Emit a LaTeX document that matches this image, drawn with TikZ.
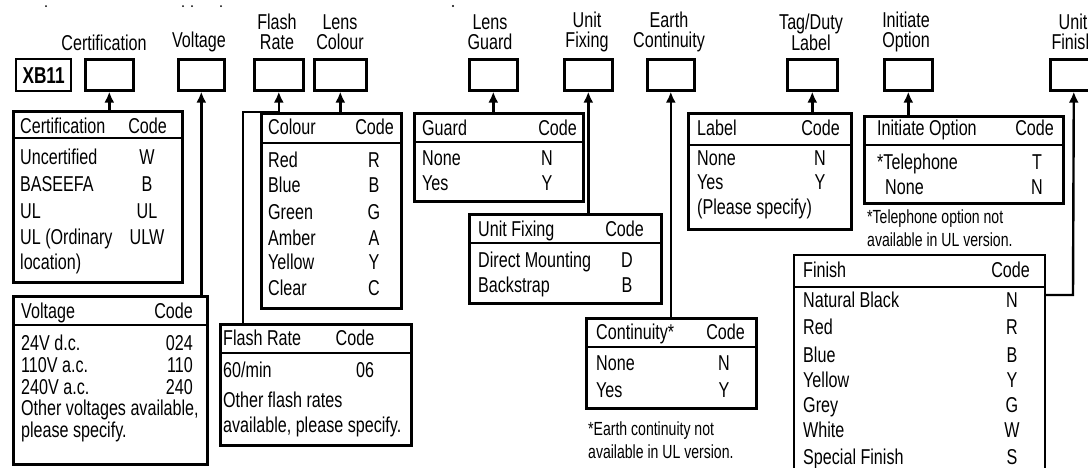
\documentclass[tikz,border=0pt]{standalone}
\usepackage{fontspec}
\setmainfont{Liberation Sans}[FakeStretch=0.75]
\newfontfamily\notefont{Liberation Sans}[FakeStretch=0.74]
\usetikzlibrary{arrows.meta}
\tikzset{
  codebox/.style={draw, line width=2.6pt, minimum height=31pt, inner sep=0pt, anchor=north west},
  tbl/.style={draw, line width=2.6pt, inner sep=0pt, anchor=north west},
  hdr/.style={line width=2pt},
  tx/.style={inner sep=0pt, text height=19pt, text depth=4pt, font=\fontsize{21.5}{21}\selectfont},
  txt/.style={tx, anchor=west},
  rtxt/.style={tx, anchor=east},
  ctxt/.style={tx},
  note/.style={inner sep=0pt, anchor=west, font=\notefont\fontsize{19}{23}\selectfont, align=left},
  lbl/.style={inner sep=0pt, align=center, font=\fontsize{21.5}{20}\selectfont},
  arr/.style={line width=2.4pt, -{Latex[length=11pt,width=10pt]}},
}
\begin{document}
\begin{tikzpicture}[x=1pt,y=-1pt]
\useasboundingbox (0,0) rectangle (1088,467);
% stray marks
\fill (46,6) circle (1pt);
\fill (183,6) circle (1pt);
\fill (192,6) circle (1pt);
\fill (221,6) circle (1pt);
\fill (453,6) circle (1.1pt);
% XB11
\node[draw, line width=2.2pt, anchor=north west, minimum width=55pt, minimum height=32pt, inner sep=0pt,
      font=\fontsize{23}{22}\selectfont\bfseries] (xb) at (15,58) {XB11};
% top code boxes
\node[codebox, minimum width=48pt] (certB) at (84,58) {};
\node[codebox, minimum width=46pt] (voltB) at (177,58) {};
\node[codebox, minimum width=49pt] (flashB) at (253,58) {};
\node[codebox, minimum width=52pt] (colB) at (313,58) {};
\node[codebox, minimum width=48pt] (guardB) at (468,58) {};
\node[codebox, minimum width=48pt] (fixB) at (563,58) {};
\node[codebox, minimum width=47pt] (earthB) at (646,58) {};
\node[codebox, minimum width=50pt] (tagB) at (786,58) {};
\node[codebox, minimum width=48pt] (initB) at (883,58) {};
\node[codebox, minimum width=47pt] (finB) at (1049,58) {};
% top labels
\node[lbl] (certL) at (104,43) {Certification};
\node[lbl] (voltL) at (199,42) {Voltage};
\node[lbl] (flashL) at (277,32) {Flash\\Rate};
\node[lbl] (colL) at (340,32) {Lens\\Colour};
\node[lbl] (guardL) at (490,32) {Lens\\Guard};
\node[lbl] (fixL) at (587,32) {Unit\\Fixing};
\node[lbl] (earthL) at (669,32) {Earth\\Continuity};
\node[lbl] (tagL) at (811,32) {Tag/Duty\\Label};
\node[lbl] (initL) at (906,32) {Initiate\\Option};
\node[lbl] (finL) at (1073,32) {Unit\\Finish};

% Certification table
\node[tbl, minimum width=169pt, minimum height=171pt] (certT) at (12,110) {};
\draw[hdr] (certT.west |- 0,138) -- (certT.east |- 0,138);
\node[txt] (ct0) at (20,126) {Certification};
\node[rtxt] (cc0) at (167,126) {Code};
\node[txt] (ct1) at (20,157) {Uncertified};
\node[ctxt] (cc1) at (147,157) {W};
\node[txt] (ct2) at (20,184) {BASEEFA};
\node[ctxt] (cc2) at (147,184) {B};
\node[txt] (ct3) at (20,211) {UL};
\node[ctxt] (cc3) at (147,211) {UL};
\node[txt] (ct4) at (20,237) {UL (Ordinary};
\node[ctxt] (cc4) at (147,237) {ULW};
\node[txt] (ct5) at (20,262) {location)};

% Voltage table
\node[tbl, minimum width=194pt, minimum height=168pt] (voltT) at (12,295) {};
\draw[hdr] (voltT.west |- 0,325) -- (voltT.east |- 0,325);
\node[txt] (vt0) at (21,311) {Voltage};
\node[rtxt] (vc0) at (193,311) {Code};
\node[txt] (vt1) at (21,343) {24V d.c.};
\node[rtxt] (vc1) at (193,343) {024};
\node[txt] (vt2) at (21,365) {110V a.c.};
\node[rtxt] (vc2) at (193,365) {110};
\node[txt] (vt3) at (21,387) {240V a.c.};
\node[rtxt] (vc3) at (193,387) {240};
\node[txt] (vt4) at (21,408) {Other voltages available,};
\node[txt] (vt5) at (21,430) {please specify.};

% Colour table
\node[tbl, minimum width=140pt, minimum height=195pt] (colT) at (260,112) {};
\draw[hdr] (colT.west |- 0,143) -- (colT.east |- 0,143);
\node[txt] (lt0) at (268,127) {Colour};
\node[rtxt] (lc0) at (394,127) {Code};
\node[txt] (lt1) at (268,160) {Red};
\node[ctxt] (lc1) at (374,160) {R};
\node[txt] (lt2) at (268,185) {Blue};
\node[ctxt] (lc2) at (374,185) {B};
\node[txt] (lt3) at (268,212) {Green};
\node[ctxt] (lc3) at (374,212) {G};
\node[txt] (lt4) at (268,238) {Amber};
\node[ctxt] (lc4) at (374,238) {A};
\node[txt] (lt5) at (268,262) {Yellow};
\node[ctxt] (lc5) at (374,262) {Y};
\node[txt] (lt6) at (268,288) {Clear};
\node[ctxt] (lc6) at (374,288) {C};

% Flash Rate table
\node[tbl, minimum width=191pt, minimum height=121pt] (flashT) at (219,323) {};
\draw[hdr] (flashT.west |- 0,353) -- (flashT.east |- 0,353);
\node[txt] (ft0) at (223,338) {Flash Rate};
\node[ctxt] (fc0) at (355,338) {Code};
\node[txt] (ft1) at (223,370) {60/min};
\node[ctxt] (fc1) at (365,370) {06};
\node[txt] (ft2) at (223,400) {Other flash rates};
\node[txt] (ft3) at (223,425) {available, please specify.};

% Guard table
\node[tbl, minimum width=169pt, minimum height=88pt] (guardT) at (413,112) {};
\draw[hdr] (guardT.west |- 0,142) -- (guardT.east |- 0,142);
\node[txt] (gt0) at (422,128) {Guard};
\node[rtxt] (gc0) at (577,128) {Code};
\node[txt] (gt1) at (422,158) {None};
\node[ctxt] (gc1) at (547,158) {N};
\node[txt] (gt2) at (422,183) {Yes};
\node[ctxt] (gc2) at (547,183) {Y};

% Unit Fixing table
\node[tbl, minimum width=192pt, minimum height=89pt] (fixT) at (468,213) {};
\draw[hdr] (fixT.west |- 0,243) -- (fixT.east |- 0,243);
\node[txt] (xt0) at (478,229) {Unit Fixing};
\node[rtxt] (xc0) at (644,229) {Code};
\node[txt] (xt1) at (478,260) {Direct Mounting};
\node[ctxt] (xc1) at (627,260) {D};
\node[txt] (xt2) at (478,285) {Backstrap};
\node[ctxt] (xc2) at (627,285) {B};

% Continuity table
\node[tbl, minimum width=170pt, minimum height=90pt] (contT) at (585,317) {};
\draw[hdr] (contT.west |- 0,347) -- (contT.east |- 0,347);
\node[txt] (nt0) at (596,332) {Continuity*};
\node[rtxt] (nc0) at (745,332) {Code};
\node[txt] (nt1) at (596,363) {None};
\node[ctxt] (nc1) at (724,363) {N};
\node[txt] (nt2) at (596,390) {Yes};
\node[ctxt] (nc2) at (724,390) {Y};
\node[note] (nnote) at (588,440) {*Earth continuity not\\available in UL version.};

% Label table
\node[tbl, minimum width=163pt, minimum height=116pt] (labT) at (687,112) {};
\draw[hdr] (labT.west |- 0,145) -- (labT.east |- 0,145);
\node[txt] (bt0) at (697,128) {Label};
\node[rtxt] (bc0) at (840,128) {Code};
\node[txt] (bt1) at (697,158) {None};
\node[ctxt] (bc1) at (820,158) {N};
\node[txt] (bt2) at (697,182) {Yes};
\node[ctxt] (bc2) at (820,182) {Y};
\node[txt] (bt3) at (697,207) {(Please specify)};

% Initiate Option table
\node[tbl, minimum width=199pt, minimum height=87pt] (initT) at (863,115) {};
\draw[hdr] (initT.west |- 0,145) -- (initT.east |- 0,145);
\node[txt] (it0) at (877,128) {Initiate Option};
\node[rtxt] (ic0) at (1054,128) {Code};
\node[txt] (it1) at (877,162) {*Telephone};
\node[ctxt] (ic1) at (1037,162) {T};
\node[txt] (it2) at (885,187) {None};
\node[ctxt] (ic2) at (1037,187) {N};
\node[note] (inote) at (867,228) {*Telephone option not\\available in UL version.};

% Finish table
\node[tbl, line width=2pt, minimum width=251pt, minimum height=240pt] (finT) at (793,254) {};
\draw[hdr, line width=2.6pt] (finT.west |- 0,287) -- (finT.east |- 0,287);
\node[txt] (st0) at (803,270) {Finish};
\node[rtxt] (sc0) at (1030,270) {Code};
\node[txt] (st1) at (803,300) {Natural Black};
\node[ctxt] (sc1) at (1012,300) {N};
\node[txt] (st2) at (803,327) {Red};
\node[ctxt] (sc2) at (1012,327) {R};
\node[txt] (st3) at (803,355) {Blue};
\node[ctxt] (sc3) at (1012,355) {B};
\node[txt] (st4) at (803,380) {Yellow};
\node[ctxt] (sc4) at (1012,380) {Y};
\node[txt] (st5) at (803,405) {Grey};
\node[ctxt] (sc5) at (1012,405) {G};
\node[txt] (st6) at (803,430) {White};
\node[ctxt] (sc6) at (1012,430) {W};
\node[txt] (st7) at (803,457) {Special Finish};
\node[ctxt] (sc7) at (1012,457) {S};

% connectors
\coordinate (frK) at (243,112);
\coordinate (finK) at (1073,295);
\draw[arr] (certT.north -| certB.south) -- (certB.south);
\draw[arr] (voltT.north -| voltB.south) -- (voltB.south);
\draw[arr] (flashT.north -| frK) -- (frK) -| (flashB.south);
\draw[arr] (colT.north -| colB.south) -- (colB.south);
\draw[arr] (guardT.north -| guardB.south) -- (guardB.south);
\draw[arr] (fixT.north -| fixB.south) -- (fixB.south);
\draw[arr] (contT.north -| earthB.south) -- (earthB.south);
\draw[arr] (labT.north -| tagB.south) -- (tagB.south);
\draw[arr] (initT.north -| initB.south) -- (initB.south);
\draw[arr] (finT.east |- finK) -- (finK) -- (finB.south);
\end{tikzpicture}
\end{document}
